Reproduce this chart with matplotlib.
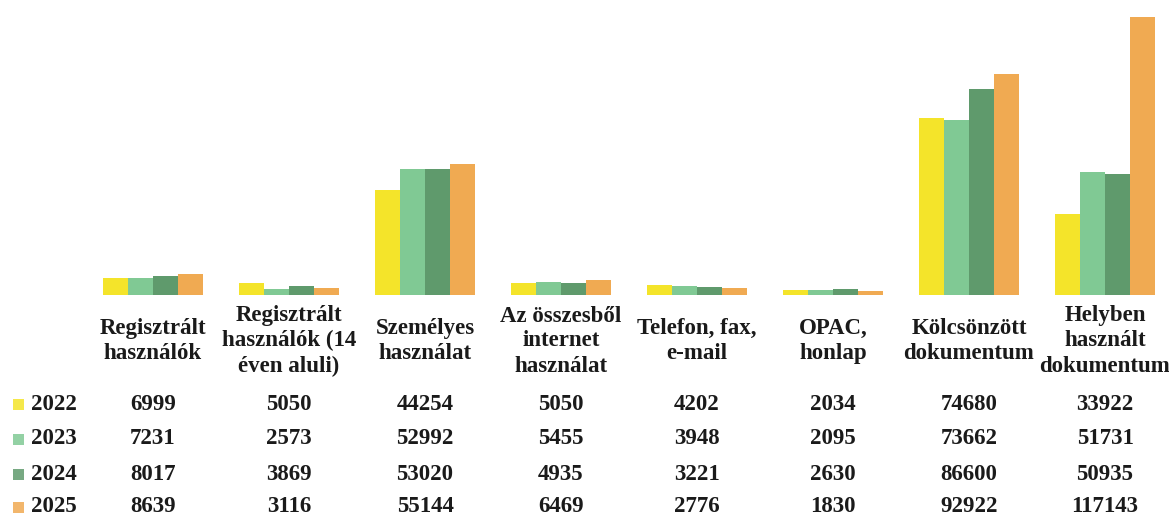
import matplotlib
matplotlib.use("Agg")
import matplotlib.pyplot as plt
import numpy as np
from matplotlib.transforms import blended_transform_factory
from matplotlib.patches import Rectangle

categories = [
    "Regisztrált\nhasználók",
    "Regisztrált\nhasználók (14\néven aluli)",
    "Személyes\nhasználat",
    "Az összesből\ninternet\nhasználat",
    "Telefon, fax,\ne-mail",
    "OPAC,\nhonlap",
    "Kölcsönzött\ndokumentum",
    "Helyben\nhasznált\ndokumentum",
]
years = ["2022", "2023", "2024", "2025"]
v2022 = [6999, 5050, 44254, 5050, 4202, 2034, 74680, 33922]
v2023 = [7231, 2573, 52992, 5455, 3948, 2095, 73662, 51731]
v2024 = [8017, 3869, 53020, 4935, 3221, 2630, 86600, 50935]
v2025 = [8639, 3116, 55144, 6469, 2776, 1830, 92922, 117143]
series = [v2022, v2023, v2024, v2025]
colors = ["#F4E42A", "#80C994", "#5F9A6C", "#F0AA52"]

W, H = 1169, 519
fig = plt.figure(figsize=(W / 100, H / 100), dpi=100)
base_px, top_px = 295, 17
ax = fig.add_axes([0, 1 - base_px / H, 1, (base_px - top_px) / H])

first_c, step = 153, 136
ax.set_xlim(-first_c / step, (W - first_c) / step)
ax.set_ylim(0, max(v2025))
ax.axis("off")

x = np.arange(len(categories))
bw = 0.184
for i, (vals, c) in enumerate(zip(series, colors)):
    ax.bar(x + (i - 1.5) * bw, vals, width=bw, color=c, linewidth=0, clip_on=False)

font = dict(family=["Liberation Serif", "DejaVu Serif"], fontweight="bold", color="#1a1a1a")
tr = blended_transform_factory(ax.transData, fig.transFigure)
fs = 16.5

# header labels
for xi, lab in zip(x, categories):
    ax.text(xi, 1 - 341 / H, lab, transform=tr, ha="center", va="center",
            fontsize=fs, linespacing=1.25, **font)

# table rows
row_y = [404, 439, 474, 507]
for r, (yr, vals, c) in enumerate(zip(years, series, colors)):
    yf = 1 - row_y[r] / H
    fig.patches.append(Rectangle((13 / W, yf - 6 / H), 11 / W, 11 / H,
                                 transform=fig.transFigure, facecolor=c,
                                 edgecolor="none", alpha=0.85))
    fig.text(31 / W, yf, yr, ha="left", va="center", fontsize=fs, **font)
    for xi, v in zip(x, vals):
        ax.text(xi, yf, str(v), transform=tr, ha="center", va="center",
                fontsize=fs, **font)

fig.savefig("out.png", dpi=100, facecolor="white")
